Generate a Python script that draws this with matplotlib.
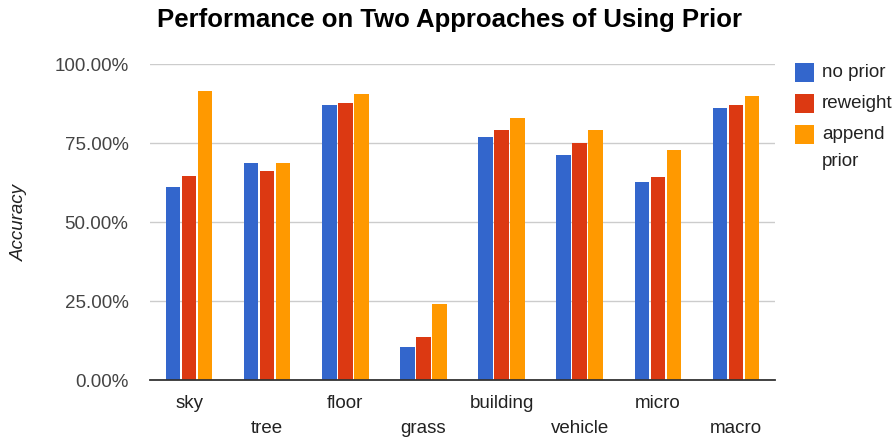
import matplotlib
matplotlib.use("Agg")
import matplotlib.pyplot as plt
from matplotlib.patches import Rectangle
from matplotlib.ticker import FuncFormatter
import numpy as np

categories = ["sky", "tree", "floor", "grass", "building", "vehicle", "micro", "macro"]
no_prior = [61.2, 68.7, 87.0, 10.3, 76.8, 71.2, 62.7, 86.0]
reweight = [64.7, 66.2, 87.7, 13.5, 79.0, 74.9, 64.1, 86.9]
append_prior = [91.6, 68.7, 90.6, 24.1, 83.0, 79.0, 72.8, 90.0]
series_labels = ["no prior", "reweight", "append\nprior"]
colors = ["#3366CC", "#DC3912", "#FF9900"]
yticks = [0, 25, 50, 75, 100]

plt.rcParams['font.family'] = ['Liberation Sans', 'DejaVu Sans']

fig = plt.figure(figsize=(8.96, 4.40), dpi=100)
W, H = 896, 440
ax = fig.add_axes([150 / W, 1 - 380 / H, 625 / W, 316 / H])

x = np.arange(len(categories))
series = [no_prior, reweight, append_prior]
offsets = [-0.205, 0.0, 0.205]
for vals, off, c in zip(series, offsets, colors):
    ax.bar(x + off, vals, width=0.185, color=c, edgecolor="none", zorder=3)

ax.set_xlim(-0.5, len(categories) - 0.5)
ax.set_ylim(0, 100)
ax.set_yticks(yticks)
ax.yaxis.set_major_formatter(FuncFormatter(lambda v, p: f"{v:.2f}%"))
ax.grid(axis="y", color="#cccccc", linewidth=1.0, zorder=0)
for s in ["top", "right", "left"]:
    ax.spines[s].set_visible(False)
ax.spines["bottom"].set_color("#333333")
ax.spines["bottom"].set_linewidth(1.3)
ax.spines["bottom"].set_zorder(4)

ax.tick_params(axis="y", length=0, pad=15.5, labelsize=13.5, labelcolor="#444444")
# alternating category labels
ax.set_xticks(x[0::2])
ax.set_xticklabels(categories[0::2])
ax.set_xticks(x[1::2], minor=True)
ax.set_xticklabels(categories[1::2], minor=True)
ax.tick_params(axis="x", which="major", length=0, pad=10.5, labelsize=13.5, labelcolor="#222222")
ax.tick_params(axis="x", which="minor", length=0, pad=29, labelsize=13.5, labelcolor="#222222")

ax.set_ylabel("Accuracy", fontsize=13.5, style="italic", color="#222222")
ax.yaxis.set_label_coords(-122 / 625, 0.5)

fig.text(449 / W, 1 - 20 / H, "Performance on Two Approaches of Using Prior",
         ha="center", va="center", fontsize=18.5, fontweight="bold", color="black")

# legend drawn manually
sq_tops = [63, 94, 125]
for top, c in zip(sq_tops, colors):
    fig.patches.append(Rectangle((795 / W, 1 - (top + 19) / H), 19 / W, 19 / H,
                                 transform=fig.transFigure, facecolor=c, edgecolor="none"))
for top, lab in zip(sq_tops, series_labels):
    for i, ln in enumerate(lab.split("\n")):
        fig.text(822 / W, 1 - (top + 9.5 + 27 * i) / H, ln, ha="left", va="center",
                 fontsize=13.5, color="#222222")

fig.savefig("out.png", dpi=100, facecolor="white")
